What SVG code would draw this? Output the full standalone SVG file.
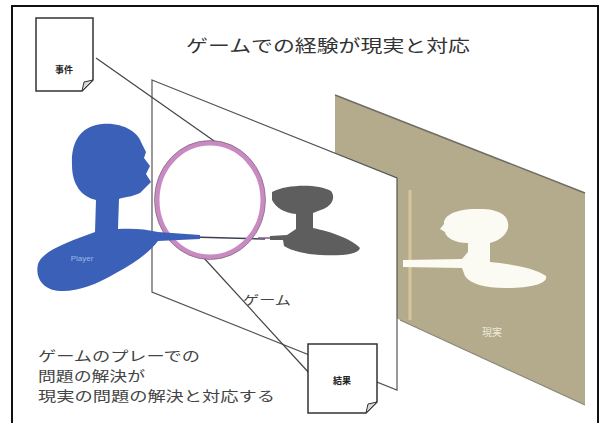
<svg xmlns="http://www.w3.org/2000/svg" width="608" height="423" viewBox="0 0 608 423">
  <style>
    .jp { font-family: "Noto Sans CJK JP", "Noto Sans", sans-serif; }
    .doc { fill: #ffffff; stroke: #333333; stroke-width: 1.5; }
    .fold { fill: #d8d8d8; stroke: #333333; stroke-width: 1; }
    .docLabel { font-size: 9px; font-weight: bold; fill: #222222; text-anchor: middle; }
    .link { fill: none; stroke: #444444; stroke-width: 1.2; }
    .caption { font-size: 13.5px; fill: #444444; }
  </style>

  <!-- outer frame -->
  <rect x="12" y="6" width="586" height="430" fill="#ffffff" stroke="#111111" stroke-width="2"/>

  <!-- title -->
  <text class="jp" x="186" y="52" font-size="17" fill="#333333" textLength="284" lengthAdjust="spacingAndGlyphs">ゲームでの経験が現実と対応</text>

  <!-- reality screen (back) -->
  <g id="reality">
    <polygon points="335,95 585,193 585,405 335,290" fill="#b3ab8c"/>
    <line x1="335" y1="95" x2="585" y2="193" stroke="#6f6d64" stroke-width="1.5"/>
    <line x1="400" y1="320" x2="585" y2="405" stroke="#8a8676" stroke-width="1.2"/>
    <line x1="410" y1="190" x2="410" y2="320" stroke="#d6c49c" stroke-width="3"/>
    <!-- white silhouette -->
    <path d="M403,260 L462,259 L468,252 L468,243 C455,243 446,238 445,232 L440,229 L444,224 C443,214 460,208 480,209 C500,209 510,216 508,228 C506,236 498,241 490,243 L490,262 C510,264 535,268 546,276 C548,284 530,288 505,288 C485,288 470,284 465,276 L462,268 L403,267 Z" fill="#fbfbf3"/>
    <text class="jp" x="492" y="336" font-size="10" fill="#eeeadb" text-anchor="middle">現実</text>
  </g>

  <!-- game screen (front) -->
  <g id="game">
    <polygon points="152,80 397,178 397,390 152,292" fill="#ffffff" stroke="#555555" stroke-width="1.2"/>
    <text class="jp" x="243" y="305" font-size="12" fill="#444444" textLength="48" lengthAdjust="spacingAndGlyphs">ゲーム</text>
  </g>

  <!-- connectors -->
  <g id="connectors">
    <line class="link" x1="96" y1="58" x2="217" y2="143"/>
    <line class="link" x1="203" y1="257" x2="310" y2="374"/>
    <line x1="155" y1="236" x2="265" y2="239" stroke="#3a3f55" stroke-width="1.5"/>
    <line x1="258" y1="238" x2="285" y2="238" stroke="#8a5a8a" stroke-width="1.5"/>
    <circle cx="217" cy="143" r="2" fill="#222222"/>
    <circle cx="203" cy="257" r="2" fill="#222222"/>
  </g>

  <!-- play loop ring -->
  <g id="loop">
    <ellipse cx="210" cy="200" rx="53" ry="57" fill="none" stroke="#c98ac2" stroke-width="5"/>
    <ellipse cx="210" cy="200" rx="55.5" ry="59.5" fill="none" stroke="#6d5a6d" stroke-width="1" opacity="0.6"/>
  </g>

  <!-- player silhouette -->
  <g id="player">
    <path d="M102,124 C122,122 138,132 141,142 L146,152 L144,158 L150,166 L146,174 L151,182 L140,193 C132,197 124,197 119,199 L118,229 C132,228 146,229 158,232 L200,235 L200,239 L158,241 C150,252 136,262 116,273 C96,285 76,292 60,291 C42,290 35,277 38,264 C42,251 70,241 95,232 L96,200 C82,197 72,185 72,165 C71,140 82,126 102,124 Z" fill="#3a60b8"/>
    <text x="82" y="261" font-family="Liberation Sans, sans-serif" font-size="8" fill="#9ab8ea" text-anchor="middle">Player</text>
  </g>

  <!-- game character silhouette -->
  <g id="character">
    <path d="M272,192 C288,184 318,184 331,191 C337,199 330,208 318,211 L313,213 L313,228 C332,232 352,239 360,248 C358,255 340,256 320,255 C305,254 292,251 284,246 L283,240 L270,240 L270,236 L287,235 L296,229 L296,214 C285,213 276,208 272,200 Z" fill="#5e5e5e"/>
  </g>

  <!-- input document -->
  <g id="event">
    <path class="doc" d="M36,18 H93 V80 L82,91 H36 Z"/>
    <path class="fold" d="M82,91 L84,82 L93,80 Z"/>
    <text class="jp docLabel" x="64" y="73">事件</text>
  </g>

  <!-- result document -->
  <g id="result">
    <path class="doc" d="M308,344 H377 V402 L366,413 H308 Z"/>
    <path class="fold" d="M366,413 L368,404 L377,402 Z"/>
    <text class="jp docLabel" x="342" y="384">結果</text>
  </g>

  <!-- caption -->
  <g id="caption">
    <text class="jp caption" x="38" y="361" textLength="162" lengthAdjust="spacingAndGlyphs">ゲームのプレーでの</text>
    <text class="jp caption" x="38" y="381" textLength="107" lengthAdjust="spacingAndGlyphs">問題の解決が</text>
    <text class="jp caption" x="38" y="401" textLength="237" lengthAdjust="spacingAndGlyphs">現実の問題の解決と対応する</text>
  </g>
</svg>
